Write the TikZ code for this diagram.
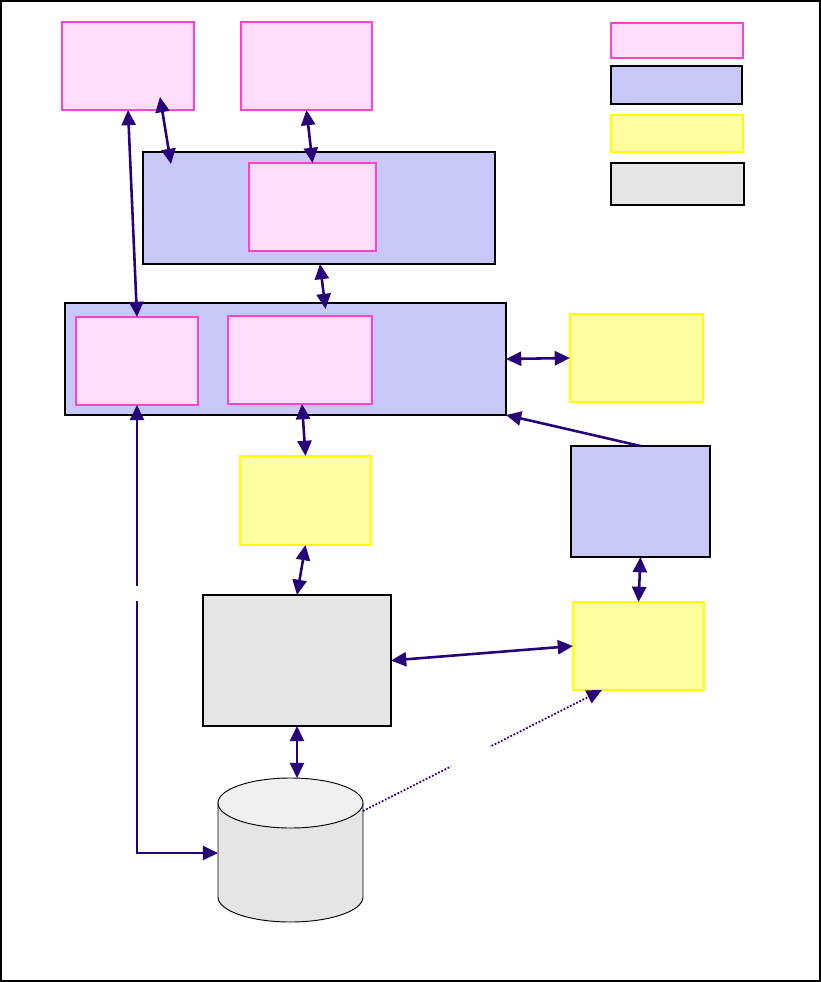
\documentclass[tikz,border=0pt]{standalone}
\usepackage{xcolor}
\usepackage{tikz}
\usetikzlibrary{arrows.meta,positioning,calc}

\definecolor{pinkfill}{RGB}{255,221,251}
\definecolor{pinkline}{RGB}{255,68,204}
\definecolor{bluefill}{RGB}{200,200,248}
\definecolor{yellowfill}{RGB}{255,255,160}
\definecolor{yellowline}{RGB}{255,255,0}
\definecolor{grayfill}{RGB}{229,229,229}
\definecolor{graytop}{RGB}{240,240,240}
\definecolor{linkcol}{RGB}{40,0,120}

\begin{document}
\begin{tikzpicture}[
  x=0.03cm, y=-0.03cm,
  pinkbox/.style={draw=pinkline, fill=pinkfill, line width=1pt, inner sep=0pt, outer sep=0pt},
  bluebox/.style={draw=black, fill=bluefill, line width=1pt, inner sep=0pt, outer sep=0pt},
  yellowbox/.style={draw=yellowline, fill=yellowfill, line width=1pt, inner sep=0pt, outer sep=0pt},
  graybox/.style={draw=black, fill=grayfill, line width=1pt, inner sep=0pt, outer sep=0pt},
  link/.style={{Triangle[length=13pt,width=12pt]}-{Triangle[length=13pt,width=12pt]}, line width=2.2pt, draw=linkcol},
  oneway/.style={-{Triangle[length=13pt,width=12pt]}, line width=2.2pt, draw=linkcol},
  gap/.style={fill=white, inner sep=0pt, outer sep=0pt}
]
\useasboundingbox (0,0) rectangle (821,982);
\draw[line width=1.2pt] (0.8,0.8) rectangle (820,981);

% top row
\node[pinkbox, minimum width=3.96cm, minimum height=2.64cm] (topl) at (128,66) {};
\node[pinkbox, minimum width=3.93cm, minimum height=2.64cm] (topr) at (306.5,66) {};

% legend
\node[pinkbox, minimum width=3.96cm, minimum height=1.05cm] (keypink) at (677,40.5) {};
\node[bluebox, minimum width=3.93cm, minimum height=1.14cm] (keyblue) at (676.5,85) {};
\node[yellowbox, minimum width=3.96cm, minimum height=1.11cm] (keyyellow) at (677,133.5) {};
\node[graybox, minimum width=3.99cm, minimum height=1.26cm] (keygray) at (677.5,184) {};

% middle layer
\node[bluebox, minimum width=10.56cm, minimum height=3.36cm] (mid) at (319,208) {};
\node[pinkbox, minimum width=3.81cm, minimum height=2.64cm] (midin) at (312.5,207) {};

% main layer
\node[bluebox, minimum width=13.23cm, minimum height=3.36cm] (main) at (285.5,359) {};
\node[pinkbox, minimum width=3.66cm, minimum height=2.64cm] (mainl) at (137,361) {};
\node[pinkbox, minimum width=4.32cm, minimum height=2.64cm] (mainc) at (300,360) {};
\node[yellowbox, minimum width=3.99cm, minimum height=2.64cm] (side) at (636.5,358) {};

% lower part
\node[yellowbox, minimum width=3.93cm, minimum height=2.67cm] (conn) at (305.5,500.5) {};
\node[bluebox, minimum width=4.17cm, minimum height=3.33cm] (svc) at (640.5,501.5) {};
\node[graybox, minimum width=5.64cm, minimum height=3.93cm] (store) at (297,660.5) {};
\node[yellowbox, minimum width=3.93cm, minimum height=2.64cm] (adapt) at (638.5,646) {};

% database
\node[inner sep=0pt, outer sep=0pt, minimum width=4.35cm, minimum height=4.32cm] (db) at (290.5,850) {};
\draw[fill=grayfill, line width=0.8pt] ($(db.north west)+(0,25)$) -- ($(db.south west)+(0,-25)$)
  arc[start angle=180, end angle=360, x radius=2.175cm, y radius=0.75cm] -- ($(db.north east)+(0,25)$) -- cycle;
\draw[fill=graytop, line width=0.8pt] ($(db.north)+(0,25)$) ellipse [x radius=2.175cm, y radius=0.75cm];

% connectors
\draw[link] (topl.south) -- (mainl.north);
\draw[link] ($(topl.south)+(32,-13)$) -- ($(mid.north west)+(28,12)$);
\draw[link] (topr.south) -- (midin.north);
\draw[link] ($(mid.south)+(1,0)$) -- ($(main.north)+(40,6)$);
\draw[link] (main.east) -- (side.west);
\draw[oneway] (svc.north) -- (main.south east);
\draw[link] (mainl.south) |- node[gap, pos=0.21, minimum width=0.4cm, minimum height=0.45cm] {} ($(db.west)+(0,3)$);
\draw[link] ($(mainc.south)+(2,0)$) -- (conn.north);
\draw[link] (conn.south) -- (store.north);
\draw[link] (svc.south) -- (adapt.north);
\draw[link] (store.east) -- (adapt.west);
\draw[link] (store.south) -- (store.south |- db.north);
\draw[oneway, line width=1.5pt, dash pattern=on 1.5pt off 1.5pt] ($(db.east)+(0,-39)$) -- node[gap, sloped, pos=0.45, minimum width=1.3cm, minimum height=0.3cm] {} ($(adapt.south west)+(29,0)$);
\end{tikzpicture}
\end{document}
